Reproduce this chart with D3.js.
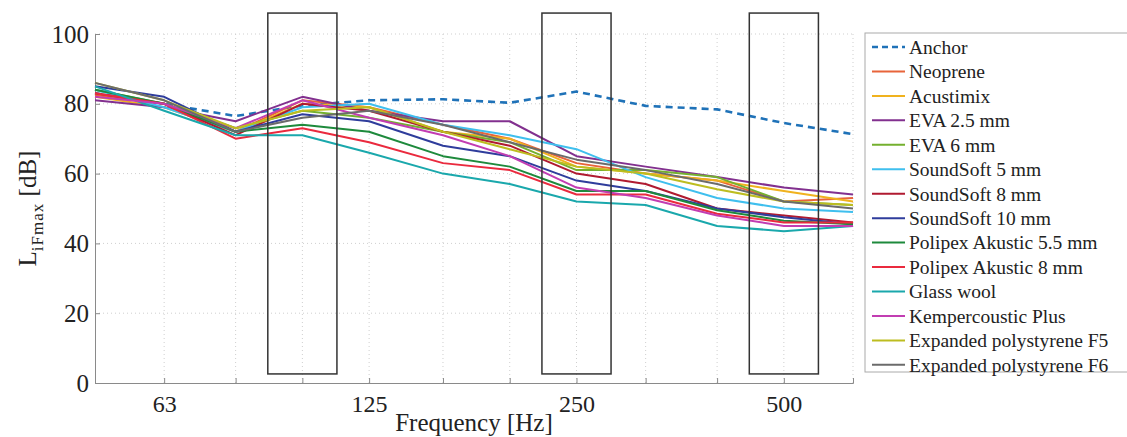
<!DOCTYPE html>
<html>
<head>
<meta charset="utf-8">
<script src="https://cdn.jsdelivr.net/npm/d3@7"></script>
<style>
  body { margin: 0; background: #fff; }
  text { font-family: "Liberation Serif", "Times New Roman", serif; fill: #222; }
</style>
</head>
<body>
<div id="vis"></div>
<script>
// 1/3 octave band centre frequencies
const freqs = [50, 63, 80, 100, 125, 160, 200, 250, 315, 400, 500, 630];
const xTickLabels = [63, 125, 250, 500];
const yTicks = [0, 20, 40, 60, 80, 100];
const highlightBands = [100, 250, 500];

const seriesNames = [
  "Anchor", "Neoprene", "Acustimix", "EVA 2.5 mm", "EVA 6 mm", "SoundSoft 5 mm",
  "SoundSoft 8 mm", "SoundSoft 10 mm", "Polipex Akustic 5.5 mm", "Polipex Akustic 8 mm",
  "Glass wool", "Kempercoustic Plus", "Expanded polystyrene F5", "Expanded polystyrene F6"
];
const seriesColors = [
  "#1f72b8", "#e8643a", "#f0b21e", "#82308f", "#74b02f", "#3fbfee",
  "#b01a30", "#2f3d9c", "#1e8a3c", "#ea2a3e", "#1aa8ac", "#c23db2", "#bdbd20", "#6b6b6b"
];

// LiFmax values [dB] per series
const anchor      = [83, 80, 76.5, 79.5, 81, 81.3, 80.3, 83.5, 79.4, 78.4, 74.5, 71.3];
const neoprene    = [82.5, 80, 72, 81, 79, 74, 70, 63, 60, 58, 52, 53];
const acustimix   = [82, 79, 72, 80, 79, 72, 70, 62, 60, 58, 55, 52];
const eva25       = [81, 79, 75, 82, 78, 75, 75, 65, 62, 59, 56, 54];
const eva6        = [84, 80, 73, 78, 76, 72, 69, 61, 61, 59, 52, 51];
const soundsoft5  = [84, 79, 72, 79, 80, 74, 71, 67, 59, 53, 50, 49];
const soundsoft8  = [83, 80, 71, 80, 78, 72, 68, 60, 57, 50, 48, 46];
const soundsoft10 = [85, 82, 72, 77, 75, 68, 65, 58, 55, 50, 47.5, 45.5];
const polipex55   = [84, 80, 72, 74, 72, 65, 62, 55, 55, 49.5, 46.5, 45.5];
const polipex8    = [83, 80, 70, 73, 69, 63, 61, 54, 54, 48.5, 46, 46];
const glassWool   = [85, 78, 71, 71, 66, 60, 57, 52, 51, 45, 43.5, 45];
const kemper      = [82, 80, 73, 81, 76, 71, 65, 56, 53, 48, 45, 45];
const epsF5       = [86, 81, 73, 78, 79, 72, 67, 62, 60, 55.5, 52, 51];
const epsF6       = [86, 81, 72, 76, 78, 74, 69, 64, 61, 57, 52, 50];

const seriesValues = [anchor, neoprene, acustimix, eva25, eva6, soundsoft5, soundsoft8,
  soundsoft10, polipex55, polipex8, glassWool, kemper, epsF5, epsF6];

const width = 1127, height = 437;
const margin = { left: 95, right: 274, top: 34, bottom: 54 };

const svg = d3.select("#vis").append("svg")
  .attr("width", width)
  .attr("height", height);

const x = d3.scaleLog()
  .domain([50, 630])
  .range([margin.left, width - margin.right]);
const y = d3.scaleLinear()
  .domain([0, 100])
  .range([height - margin.bottom, margin.top]);

// grid
svg.append("g").selectAll("line")
  .data(freqs.slice(1))
  .enter().append("line")
  .attr("x1", d => x(d)).attr("x2", d => x(d))
  .attr("y1", y(0)).attr("y2", y(100))
  .attr("stroke", "#cfcfcf").attr("stroke-width", 1)
  .attr("stroke-dasharray", "1,3");
svg.append("g").selectAll("line")
  .data(yTicks.slice(1))
  .enter().append("line")
  .attr("x1", x(50)).attr("x2", x(630))
  .attr("y1", d => y(d)).attr("y2", d => y(d))
  .attr("stroke", "#cfcfcf").attr("stroke-width", 1)
  .attr("stroke-dasharray", "1,3");

// axes
const xAxis = d3.axisBottom(x)
  .tickValues(freqs)
  .tickSize(-5)
  .tickFormat(d => xTickLabels.includes(d) ? d : "");
const gx = svg.append("g")
  .attr("transform", `translate(0,${y(0)})`)
  .call(xAxis);
gx.select(".domain").attr("stroke", "#8a8a8a");
gx.selectAll(".tick line").attr("stroke", "#8a8a8a");
gx.selectAll(".tick text")
  .attr("y", 12)
  .style("font-family", "Liberation Serif, serif")
  .style("font-size", "24px")
  .attr("fill", "#222");

const yAxis = d3.axisLeft(y)
  .tickValues(yTicks)
  .tickSize(-5)
  .tickPadding(6);
const gy = svg.append("g")
  .attr("transform", `translate(${x(50)},0)`)
  .call(yAxis);
gy.select(".domain").attr("stroke", "#8a8a8a");
gy.selectAll(".tick line").attr("stroke", "#8a8a8a");
gy.selectAll(".tick text")
  .style("font-family", "Liberation Serif, serif")
  .style("font-size", "25px")
  .attr("fill", "#222");

// axis titles
svg.append("text")
  .attr("x", (x(50) + x(630)) / 2)
  .attr("y", 431)
  .attr("text-anchor", "middle")
  .style("font-size", "25px")
  .text("Frequency [Hz]");

const yl = svg.append("text")
  .attr("transform", `translate(36,${(y(0) + y(100)) / 2}) rotate(-90)`)
  .attr("text-anchor", "middle")
  .style("font-size", "25px");
yl.append("tspan").text("L");
yl.append("tspan").attr("dy", 7).style("font-size", "17px").style("letter-spacing", "1px").text("iFmax");
yl.append("tspan").attr("dy", -7).text(" [dB]");

// series lines
const line = d3.line()
  .x((d, i) => x(freqs[i]))
  .y(d => y(d));

svg.append("g").selectAll("path")
  .data(seriesValues)
  .enter().append("path")
  .attr("d", d => line(d))
  .attr("fill", "none")
  .attr("stroke", (d, i) => seriesColors[i])
  .attr("stroke-width", (d, i) => i === 0 ? 2.6 : 2)
  .attr("stroke-dasharray", (d, i) => i === 0 ? "7,5" : null)
  .attr("stroke-linejoin", "round");

// highlighted 1/3 octave bands
svg.append("g").selectAll("rect")
  .data(highlightBands)
  .enter().append("rect")
  .attr("x", d => x(d / Math.pow(2, 1 / 6)))
  .attr("width", d => x(d * Math.pow(2, 1 / 6)) - x(d / Math.pow(2, 1 / 6)))
  .attr("y", y(106))
  .attr("height", y(2.6) - y(106))
  .attr("fill", "none")
  .attr("stroke", "#333")
  .attr("stroke-width", 1.5);

// legend
const legend = svg.append("g").attr("transform", "translate(865,33)");
legend.append("rect")
  .attr("x", 0).attr("y", 0)
  .attr("width", 270).attr("height", 339)
  .attr("fill", "#fff")
  .attr("stroke", "#aaa");

const item = legend.selectAll(".item")
  .data(seriesNames)
  .enter().append("g")
  .attr("class", "item")
  .attr("transform", (d, i) => `translate(0,${14 + i * 24.45})`);
item.append("line")
  .attr("x1", 7).attr("x2", 40)
  .attr("stroke", (d, i) => seriesColors[i])
  .attr("stroke-width", (d, i) => i === 0 ? 2.4 : 2)
  .attr("stroke-dasharray", (d, i) => i === 0 ? "6,4" : null);
item.append("text")
  .attr("x", 44)
  .attr("dy", "0.35em")
  .style("font-size", "19.5px")
  .text(d => d);
</script>
</body>
</html>
